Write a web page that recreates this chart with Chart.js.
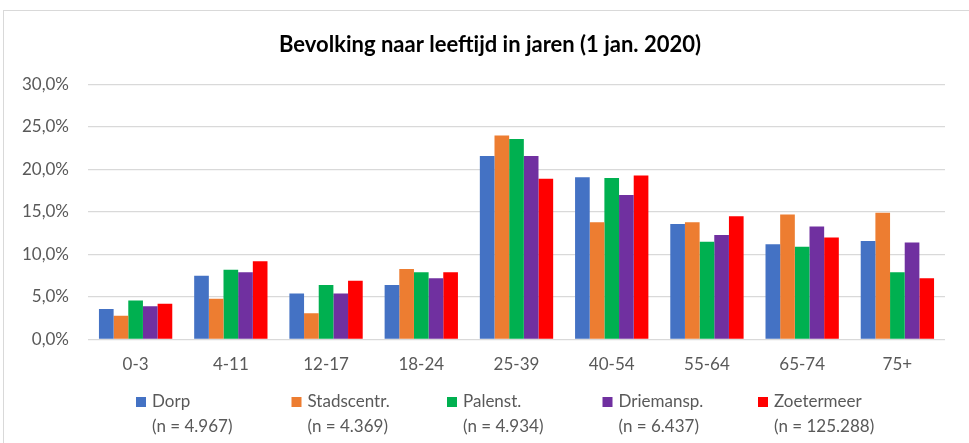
<!DOCTYPE html>
<html lang="nl">
<head>
    <meta charset="UTF-8">
    <title>Bevolking naar leeftijd in jaren (1 jan. 2020)</title>
    <style>
        body {
            margin: 0;
            padding: 0;
            background-color: #fff;
        }
        #chart {
            display: block;
        }
    </style>
    <script src="https://cdn.jsdelivr.net/npm/chart.js"></script>
</head>
<body>
    <canvas id="chart" width="969" height="443"></canvas>

    <script>
        // Data
        const categories = ['0-3', '4-11', '12-17', '18-24', '25-39', '40-54', '55-64', '65-74', '75+'];
        const dorp       = [3.6, 7.5, 5.4, 6.4, 21.6, 19.1, 13.6, 11.2, 11.6];
        const stadscentr = [2.8, 4.8, 3.1, 8.3, 24.0, 13.8, 13.8, 14.7, 14.9];
        const palenst    = [4.6, 8.2, 6.4, 7.9, 23.6, 19.0, 11.5, 10.9, 7.9];
        const driemansp  = [3.9, 7.9, 5.4, 7.2, 21.6, 17.0, 12.3, 13.3, 11.4];
        const zoetermeer = [4.2, 9.2, 6.9, 7.9, 18.9, 19.3, 14.5, 12.0, 7.2];

        const seriesNames  = ['Dorp', 'Stadscentr.', 'Palenst.', 'Driemansp.', 'Zoetermeer'];
        const seriesCounts = ['(n = 4.967)', '(n = 4.369)', '(n = 4.934)', '(n = 6.437)', '(n = 125.288)'];
        const seriesValues = [dorp, stadscentr, palenst, driemansp, zoetermeer];
        const colors = ['#4472C4', '#ED7D31', '#00B050', '#7030A0', '#FF0000'];

        const FONT = 'Lato, "Open Sans", sans-serif';
        const TEXT = '#595959';

        // achtergrond + kader, titel iets naar rechts (zoals Excel)
        const framePlugin = {
            id: 'frame',
            afterLayout(chart) {
                if (chart.titleBlock) {
                    chart.titleBlock.left += 35;
                }
            },
            beforeDraw(chart) {
                const ctx = chart.ctx;
                ctx.save();
                ctx.fillStyle = '#fff';
                ctx.fillRect(0, 0, chart.width, chart.height);
                ctx.strokeStyle = '#d9d9d9';
                ctx.lineWidth = 1;
                ctx.strokeRect(3.5, 10.5, chart.width + 10, chart.height + 10);
                ctx.restore();
            }
        };

        // legenda met twee regels (naam + n)
        const legendPlugin = {
            id: 'twoLineLegend',
            afterDraw(chart) {
                const ctx = chart.ctx;
                const startX = 136;
                const step = 155.5;
                ctx.save();
                ctx.font = '17px ' + FONT;
                ctx.textBaseline = 'middle';
                chart.data.datasets.forEach((ds, i) => {
                    const x = startX + i * step;
                    ctx.fillStyle = ds.backgroundColor;
                    ctx.fillRect(x, 397, 10, 10);
                    ctx.fillStyle = TEXT;
                    ctx.fillText(ds.label, x + 16, 402);
                    ctx.fillText(seriesCounts[i], x + 16, 427);
                });
                ctx.restore();
            }
        };

        new Chart(document.getElementById('chart'), {
            type: 'bar',
            data: {
                labels: categories,
                datasets: seriesNames.map((name, i) => ({
                    label: name,
                    data: seriesValues[i],
                    backgroundColor: colors[i],
                    borderWidth: 0,
                    categoryPercentage: 0.77,
                    barPercentage: 1.0
                }))
            },
            options: {
                responsive: false,
                animation: false,
                devicePixelRatio: 1,
                layout: {
                    padding: { left: 0, right: 24, top: 0, bottom: 0 }
                },
                plugins: {
                    legend: { display: false },
                    tooltip: { enabled: false },
                    title: {
                        display: true,
                        text: 'Bevolking naar leeftijd in jaren (1 jan. 2020)',
                        color: '#000',
                        font: { family: FONT, size: 22, weight: 'bold', lineHeight: 1.2 },
                        padding: { top: 31.8, bottom: 26.3 }
                    }
                },
                scales: {
                    x: {
                        grid: { display: false, drawTicks: false },
                        border: { display: false },
                        ticks: {
                            color: TEXT,
                            font: { family: FONT, size: 17 },
                            padding: 15,
                            maxRotation: 0
                        },
                        afterFit(scale) { scale.height = 103.5; }
                    },
                    y: {
                        min: 0,
                        max: 30,
                        grid: { color: '#d9d9d9', lineWidth: 1.3, drawTicks: false },
                        border: { display: false },
                        ticks: {
                            stepSize: 5,
                            color: TEXT,
                            font: { family: FONT, size: 17 },
                            padding: 19,
                            callback: v => v.toFixed(1).replace('.', ',') + '%'
                        },
                        afterFit(scale) { scale.width = 88; }
                    }
                }
            },
            plugins: [framePlugin, legendPlugin]
        });
    </script>
</body>
</html>
